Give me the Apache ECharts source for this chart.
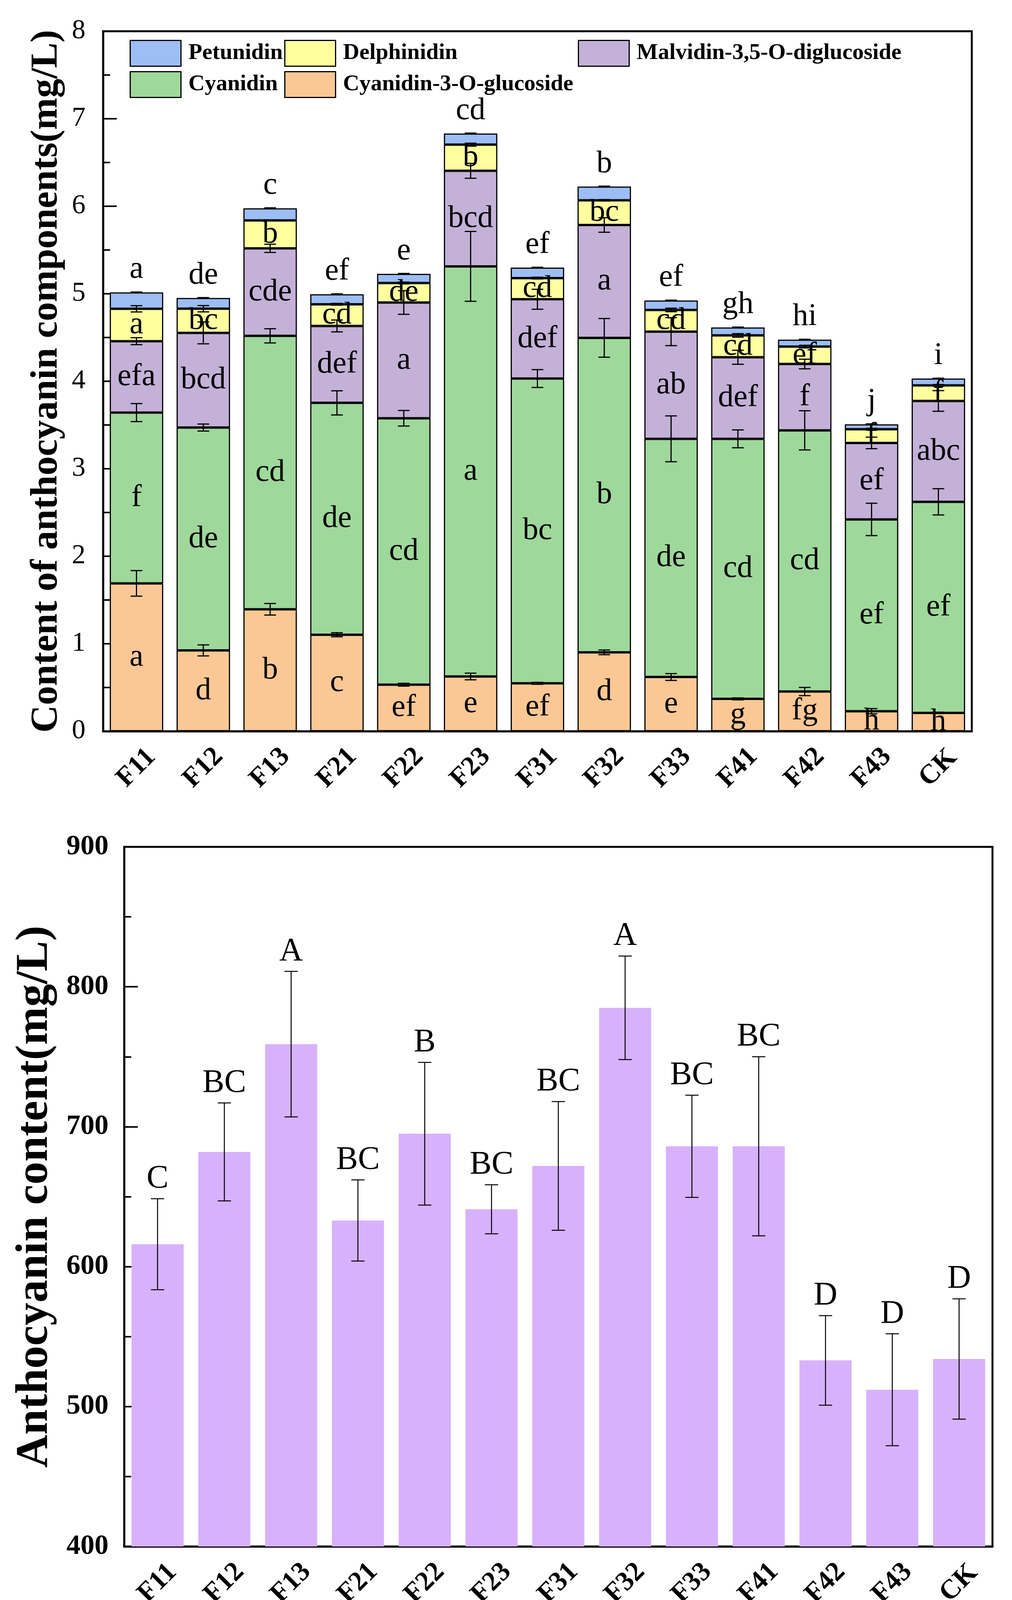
<!DOCTYPE html>
<html>
<head>
<meta charset="utf-8">
<script src="https://cdn.jsdelivr.net/npm/echarts@6/dist/echarts.min.js"></script>
<style>
html,body{margin:0;padding:0;background:#fff;}
#c{width:2592px;height:4464px;}
</style>
</head>
<body>
<div id="c"></div>
<script>
// ---------- data ----------
const categories = ['F11','F12','F13','F21','F22','F23','F31','F32','F33','F41','F42','F43','CK'];

// top chart: anthocyanin components (mg/L), stacked from bottom
const c3g  = [1.690, 0.924, 1.394, 1.103, 0.532, 0.626, 0.548, 0.902, 0.620, 0.370, 0.454, 0.229, 0.210];
const cyan = [1.952, 2.547, 3.125, 2.650, 3.045, 4.687, 3.483, 3.594, 2.722, 2.972, 2.985, 2.192, 2.412];
const malv = [0.816, 1.082, 1.000, 0.879, 1.323, 1.092, 0.906, 1.290, 1.225, 0.932, 0.758, 0.874, 1.153];
const delp = [0.370, 0.276, 0.319, 0.248, 0.223, 0.299, 0.242, 0.282, 0.248, 0.250, 0.199, 0.157, 0.178];
const petu = [0.188, 0.123, 0.139, 0.114, 0.105, 0.128, 0.120, 0.157, 0.108, 0.091, 0.080, 0.056, 0.078];

const c3gErr  = [0.146, 0.063, 0.066, 0.023, 0.016, 0.038, 0.011, 0.027, 0.039, 0.011, 0.047, 0.030, 0.008];
const cyanErr = [0.103, 0.040, 0.081, 0.138, 0.089, 0.399, 0.102, 0.221, 0.262, 0.102, 0.224, 0.185, 0.150];
const malvErr = [0.040, 0.125, 0.047, 0.068, 0.135, 0.085, 0.114, 0.083, 0.160, 0.080, 0.055, 0.066, 0.118];
const delpErr = [0.036, 0.036, 0.005, 0.010, 0.010, 0.017, 0.010, 0.008, 0.020, 0.020, 0.015, 0.010, 0.010];
const petuErr = [0.004, 0.004, 0.005, 0.005, 0.004, 0.004, 0.004, 0.005, 0.004, 0.004, 0.004, 0.005, 0.004];

const c3gLetters  = ['a','d','b','c','ef','e','ef','d','e','g','fg','h','h'];
const cyanLetters = ['f','de','cd','de','cd','a','bc','b','de','cd','cd','ef','ef'];
const malvLetters = ['efa','bcd','cde','def','a','bcd','def','a','ab','def','f','ef','abc'];
const delpLetters = ['a','bc','b','cd','de','b','cd','bc','cd','cd','ef','f','f'];
const topLetters  = ['a','de','c','ef','e','cd','ef','b','ef','gh','hi','j','i'];

// bottom chart: total anthocyanin content (mg/L)
const totalContent = [616, 682, 759, 633, 695, 641, 672, 785, 686, 686, 533, 512, 534];
const totalErr     = [32.5, 35, 52, 29, 51, 17.5, 46, 37, 36.5, 64, 32, 40, 43];
const totalLetters = ['C','BC','A','BC','B','BC','BC','A','BC','BC','D','D','D'];

const topTicks = [0,1,2,3,4,5,6,7,8];
const bottomTicks = [400,500,600,700,800,900];

// ---------- styles ----------
const FONT = '"Liberation Serif", "Times New Roman", serif';
const segNames = ['Cyanidin-3-O-glucoside','Cyanidin','Malvidin-3,5-O-diglucoside','Delphinidin','Petunidin'];
const segColors = ['#FBC895','#9FD89B','#C4B1D8','#FFFF9F','#9CBEF5'];
const segData = [c3g, cyan, malv, delp, petu];
const segErr = [c3gErr, cyanErr, malvErr, delpErr, petuErr];
const segLetters = [c3gLetters, cyanLetters, malvLetters, delpLetters, null];

// error-bar points (category index, cumulative top, error)
const errPoints = [];
for (let i = 0; i < categories.length; i++) {
  let cum = 0;
  for (let s = 0; s < segData.length; s++) {
    cum += segData[s][i];
    errPoints.push([i, cum, segErr[s][i]]);
  }
}
const totalPoints = totalContent.map((v, i) => [i, v, totalErr[i]]);

function errRender(capW, lw, withText) {
  return function (params, api) {
    const x = api.value(0), y = api.value(1), e = api.value(2);
    const hi = api.coord([x, y + e]);
    const lo = api.coord([x, y - e]);
    const st = {stroke: '#000', lineWidth: lw};
    const ch = [
      {type: 'line', shape: {x1: hi[0], y1: hi[1], x2: lo[0], y2: lo[1]}, style: st},
      {type: 'line', shape: {x1: hi[0] - capW / 2, y1: hi[1], x2: hi[0] + capW / 2, y2: hi[1]}, style: st},
      {type: 'line', shape: {x1: lo[0] - capW / 2, y1: lo[1], x2: lo[0] + capW / 2, y2: lo[1]}, style: st}
    ];
    if (withText) {
      ch.push({type: 'text', style: {
        text: totalLetters[params.dataIndex], x: hi[0], y: hi[1] - 8,
        align: 'center', verticalAlign: 'bottom',
        fontSize: 84, fontFamily: FONT, fill: '#000'
      }});
    }
    return {type: 'group', children: ch};
  };
}

const axisLineStyle = {show: true, lineStyle: {color: '#000', width: 5}};
const tickStyle = {show: true, inside: true, length: 35, lineStyle: {color: '#000', width: 4}};
const minorTickStyle = {show: true, splitNumber: 2, length: 18, lineStyle: {color: '#000', width: 4}};

const series = [];
segNames.forEach((name, s) => {
  const lab = segLetters[s];
  series.push({
    type: 'bar', name: name, stack: 'total', xAxisIndex: 0, yAxisIndex: 0,
    data: segData[s], barCategoryGap: '20%',
    itemStyle: {color: segColors[s], borderColor: '#000', borderWidth: 3},
    label: lab ? {
      show: true, position: 'inside', formatter: p => lab[p.dataIndex],
      fontSize: 80, fontFamily: FONT, color: '#000', textBorderWidth: 0
    } : {
      show: true, position: 'top', distance: 18, formatter: p => topLetters[p.dataIndex],
      fontSize: 80, fontFamily: FONT, color: '#000', textBorderWidth: 0
    },
    emphasis: {disabled: true}
  });
});
series.push({
  type: 'custom', name: 'err-top', xAxisIndex: 0, yAxisIndex: 0, z: 10,
  data: errPoints, encode: {x: 0, y: 1}, renderItem: errRender(30, 3, false), silent: true
});
series.push({
  type: 'bar', name: 'Anthocyanin content', xAxisIndex: 1, yAxisIndex: 1,
  data: totalContent, barCategoryGap: '22%',
  itemStyle: {color: '#D8B1FC'}, emphasis: {disabled: true}
});
series.push({
  type: 'custom', name: 'err-bottom', xAxisIndex: 1, yAxisIndex: 1, z: 10,
  data: totalPoints, encode: {x: 0, y: 1}, renderItem: errRender(34, 2.5, true), silent: true
});

const legendCommon = {
  orient: 'horizontal', padding: 0, itemWidth: 130, itemHeight: 66, icon: 'rect',
  selectedMode: false,
  itemStyle: {borderColor: '#000', borderWidth: 3},
  textStyle: {fontSize: 58, fontWeight: 'bold', fontFamily: FONT, color: '#000', padding: [0, 0, 0, 14]}
};

const option = {
  backgroundColor: '#fff',
  animation: false,
  title: {
    text: '{n|(}{b|A}{n|)}', left: 'center', top: 4345,
    textStyle: {rich: {
      n: {fontSize: 72, fontFamily: FONT, color: '#000'},
      b: {fontSize: 72, fontFamily: FONT, fontWeight: 'bold', color: '#000'}
    }}
  },
  legend: [
    Object.assign({data: ['Petunidin'], left: 332, top: 102}, legendCommon),
    Object.assign({data: ['Delphinidin'], left: 728, top: 102}, legendCommon),
    Object.assign({data: ['Malvidin-3,5-O-diglucoside'], left: 1480, top: 102}, legendCommon),
    Object.assign({data: ['Cyanidin'], left: 332, top: 182}, legendCommon),
    Object.assign({data: ['Cyanidin-3-O-glucoside'], left: 728, top: 182}, legendCommon)
  ],
  grid: [
    {left: 264, top: 80, width: 2225, height: 1792, show: true, borderColor: '#000', borderWidth: 5, backgroundColor: 'transparent'},
    {left: 318, top: 2168, width: 2224, height: 1791, show: true, borderColor: '#000', borderWidth: 5, backgroundColor: 'transparent'}
  ],
  xAxis: [0, 1].map(g => ({
    type: 'category', gridIndex: g, data: categories, boundaryGap: true,
    axisLine: axisLineStyle,
    axisTick: Object.assign({alignWithLabel: true}, tickStyle),
    axisLabel: {rotate: 45, align: 'center', verticalAlign: 'middle', margin: 94,
      fontSize: 70, fontWeight: 'bold', fontFamily: FONT, color: '#000', interval: 0},
    splitLine: {show: false}
  })),
  yAxis: [
    {
      type: 'value', gridIndex: 0, min: topTicks[0], max: topTicks[topTicks.length - 1], interval: 1,
      axisLine: axisLineStyle, axisTick: tickStyle, minorTick: minorTickStyle,
      axisLabel: {fontSize: 70, fontFamily: FONT, color: '#000', margin: 45},
      splitLine: {show: false}, minorSplitLine: {show: false},
      name: 'Content of anthocyanin components(mg/L)', nameLocation: 'middle', nameGap: 95,
      nameTextStyle: {fontSize: 98, fontWeight: 'bold', fontFamily: FONT, color: '#000'}
    },
    {
      type: 'value', gridIndex: 1, min: bottomTicks[0], max: bottomTicks[bottomTicks.length - 1], interval: 100,
      axisLine: axisLineStyle, axisTick: tickStyle, minorTick: minorTickStyle,
      axisLabel: {fontSize: 72, fontWeight: 'bold', fontFamily: FONT, color: '#000', margin: 40},
      splitLine: {show: false}, minorSplitLine: {show: false},
      name: 'Anthocyanin content(mg/L)', nameLocation: 'middle', nameGap: 170,
      nameTextStyle: {fontSize: 117, fontWeight: 'bold', fontFamily: FONT, color: '#000'}
    }
  ],
  series: series
};

const chart = echarts.init(document.getElementById('c'), null, {renderer: 'canvas'});
chart.setOption(option);
</script>
</body>
</html>
